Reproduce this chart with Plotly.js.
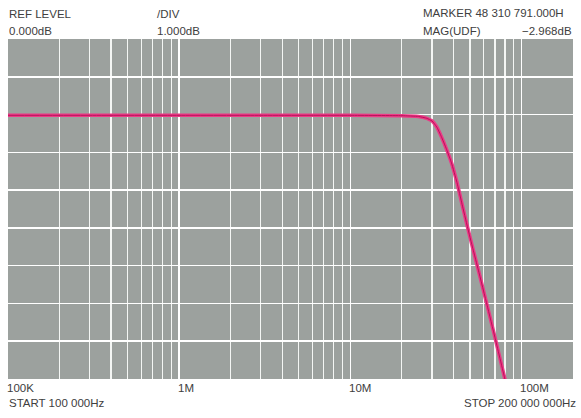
<!DOCTYPE html>
<html><head><meta charset="utf-8">
<script src="https://cdn.plot.ly/plotly-3.0.1.min.js"></script>
<style>html,body{margin:0;padding:0;background:#fff;}#chart{width:581px;height:418px;}</style>
</head><body><div id="chart"></div>
<script>
// Frequency response (Hz, dB)
const freqHz = [1e5, 3e5, 1e6, 3e6, 1e7, 2e7, 2.5e7, 2.8e7, 3.0e7, 3.2e7, 3.4e7, 3.65e7, 3.9e7, 4.2e7, 4.5e7, 4.831e7, 5.2e7, 5.6e7, 6.3e7, 7.0e7, 8.0e7, 8.5e7];
const magDb  = [-0.02, -0.02, -0.02, -0.02, -0.02, -0.03, -0.05, -0.10, -0.17, -0.33, -0.58, -0.92, -1.28, -1.80, -2.38, -2.968, -3.55, -4.12, -5.05, -5.90, -7.00, -7.50];

const decadeTicks  = [1e5, 1e6, 1e7, 1e8];
const decadeLabels = ["100K", "1M", "10M", "100M"];
const minorTicks = [2e5,3e5,4e5,5e5,6e5,7e5,8e5,9e5, 2e6,3e6,4e6,5e6,6e6,7e6,8e6,9e6, 2e7,3e7,4e7,5e7,6e7,7e7,8e7,9e7, 2e8];

const headerLeft  = ["REF LEVEL", "0.000dB"];
const headerMid   = ["/DIV", "1.000dB"];
const markerText  = "MARKER 48 310 791.000H";
const magLabel    = "MAG(UDF)";
const magValue    = "\u22122.968dB";
const startText   = "START 100 000Hz";
const stopText    = "STOP 200 000 000Hz";

const W = 581, H = 418, L = 8, R = 8, T = 39, B = 39;
const PW = W - L - R, PH = H - T - B;
const px = x => (x - L) / PW;
const py = y => (H - B - y) / PH;

const font = {family: "Liberation Sans, Arial, sans-serif", size: 11.5, color: "#404040"};
function txt(text, x, y, anchor) {
  return {text: text, xref: "paper", yref: "paper", x: px(x), y: py(y), xanchor: anchor || "left", yanchor: "middle", showarrow: false, font: font};
}

const annotations = [
  txt(headerLeft[0], 7, 14), txt(headerLeft[1], 7, 31),
  txt(headerMid[0], 155, 14), txt(headerMid[1], 155, 31),
  txt(markerText, 421, 13), txt(magLabel, 421, 31), txt(magValue, 574, 31, "right"),
  txt(startText, 7, 403), txt(stopText, 578, 403, "right")
];
decadeTicks.forEach((v, i) => {
  annotations.push({text: decadeLabels[i], xref: "x", yref: "paper", x: Math.log10(v), y: py(388), xanchor: "left", yanchor: "middle", xshift: -3, showarrow: false, font: font});
});

const traces = [
  {x: freqHz, y: magDb, type: "scatter", mode: "lines", line: {color: "#ec3a86", width: 3.6, shape: "spline", smoothing: 0.4}, hoverinfo: "skip"},
  {x: freqHz, y: magDb, type: "scatter", mode: "lines", line: {color: "#b8125a", width: 1, shape: "spline", smoothing: 0.4}, hoverinfo: "skip"}
];

const layout = {
  width: W, height: H,
  margin: {l: L, r: R, t: T, b: B, pad: 0},
  paper_bgcolor: "#ffffff", plot_bgcolor: "#9ca19e",
  showlegend: false,
  xaxis: {type: "log", range: [5, Math.log10(2e8)], tickvals: decadeTicks, showticklabels: false, ticks: "",
          showgrid: true, gridcolor: "#ffffff", gridwidth: 1.6, zeroline: false, showline: false,
          minor: {tickvals: minorTicks, showgrid: true, gridcolor: "#f4f6f4", gridwidth: 1.3, ticks: ""}},
  yaxis: {range: [-7, 2], tick0: 0, dtick: 1, showticklabels: false, ticks: "",
          showgrid: true, gridcolor: "#ffffff", gridwidth: 1.6, zeroline: false, showline: false},
  annotations: annotations
};

Plotly.newPlot("chart", traces, layout, {staticPlot: true, displayModeBar: false});
</script></body></html>
